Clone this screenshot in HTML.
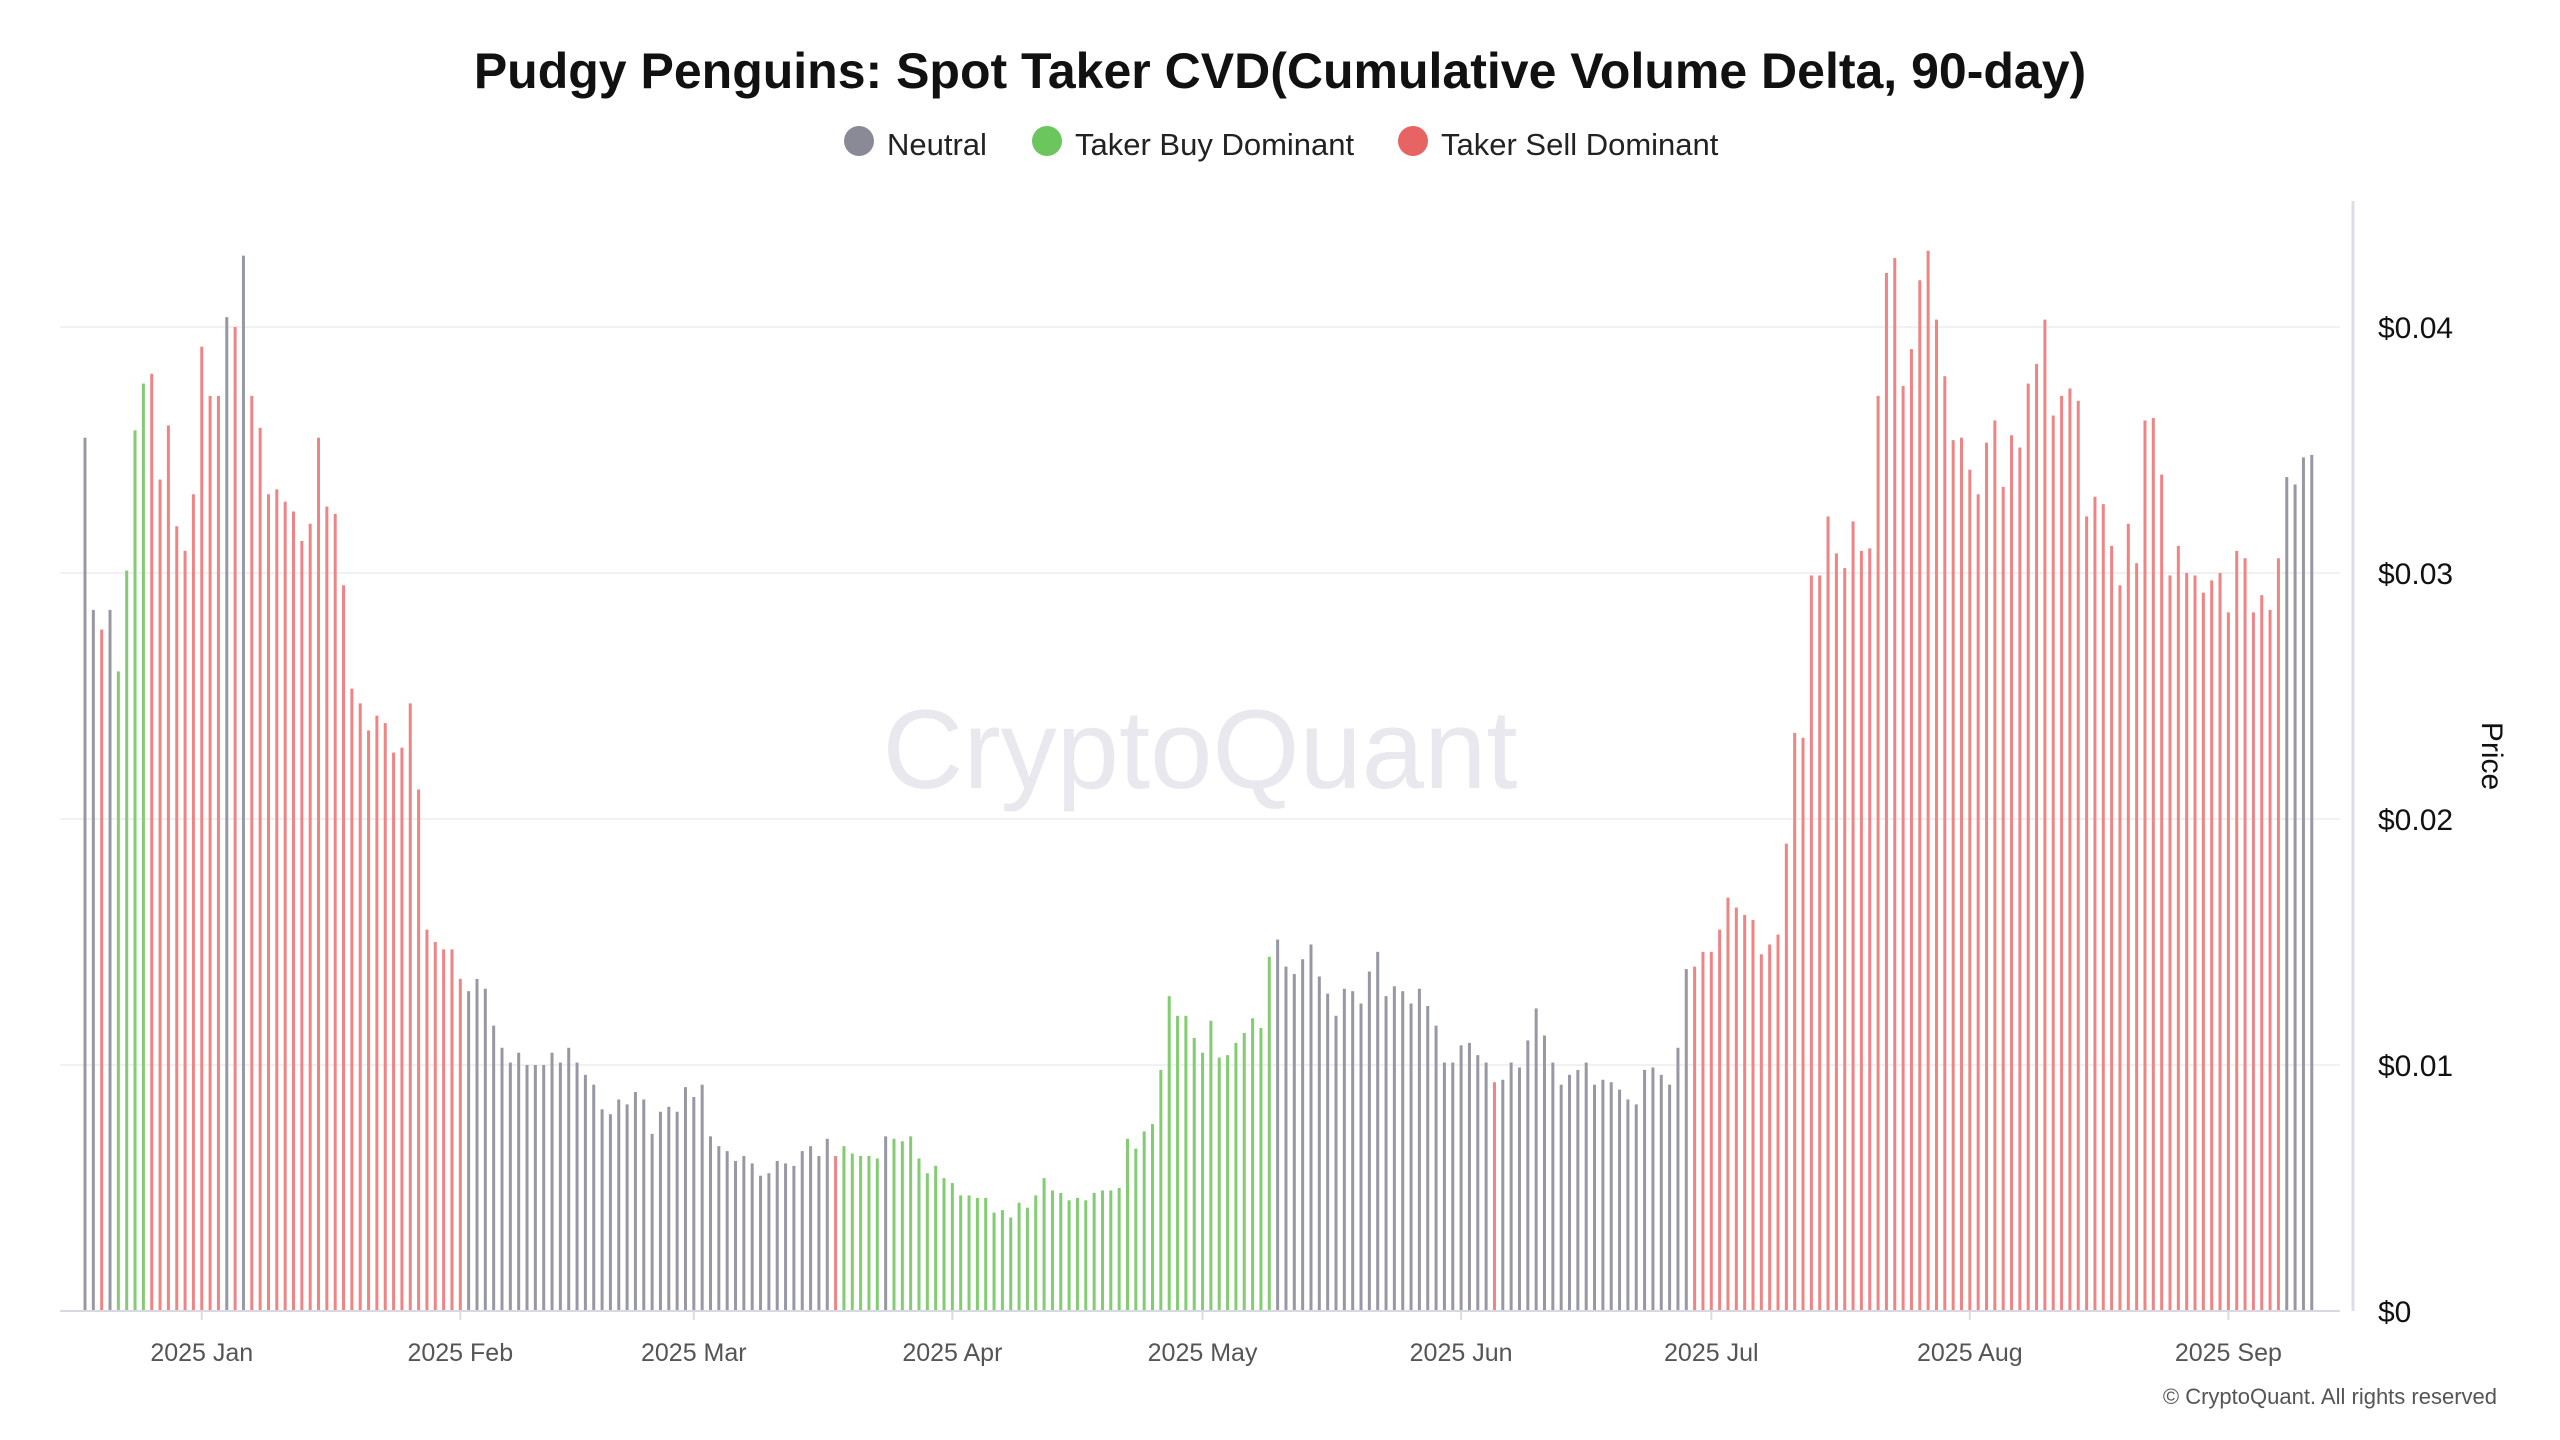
<!DOCTYPE html>
<html><head><meta charset="utf-8"><style>
body{margin:0;background:#fff;width:2560px;height:1440px;overflow:hidden;font-family:"Liberation Sans",sans-serif}
svg{display:block}
</style></head><body>
<svg id="chart" width="2560" height="1440" viewBox="0 0 2560 1440">
<text x="1280" y="88" text-anchor="middle" font-size="50" font-weight="bold" fill="#111">Pudgy Penguins: Spot Taker CVD(Cumulative Volume Delta, 90-day)</text>
<g>
<g><circle cx="859" cy="141" r="15" fill="#8a8a96"/><text x="887" y="155" font-size="31" fill="#222">Neutral</text></g>
<g><circle cx="1047" cy="141" r="15" fill="#6cc65e"/><text x="1075" y="155" font-size="31" fill="#222">Taker Buy Dominant</text></g>
<g><circle cx="1413" cy="141" r="15" fill="#e86464"/><text x="1441" y="155" font-size="31" fill="#222">Taker Sell Dominant</text></g>
</g>
<text x="1200" y="788" text-anchor="middle" font-size="112" font-weight="normal" fill="#e8e8ee">CryptoQuant</text>
<g id="grid"></g>
<g id="bars"></g>
<line x1="60" y1="1311" x2="2340" y2="1311" stroke="#d8d8e2" stroke-width="2"/>
<line x1="2353" y1="201" x2="2353" y2="1311" stroke="#dcdce6" stroke-width="3"/>
<g id="yticks"></g>
<g id="xticks"></g>
<text x="2482" y="756" text-anchor="middle" font-size="30" fill="#111" transform="rotate(90 2482 756)">Price</text>
<text x="2497" y="1404" text-anchor="end" font-size="22" fill="#555">© CryptoQuant. All rights reserved</text>
</svg>
<script>
const startDate = "2024-12-18";
const values = [
.0355,.0285,.0277,.0285,.0260,.0301,.0358,.0377,.0381,.0338,.0360,.0319,.0309,.0332,.0392,.0372,.0372,.0404,.0400,.0429,.0372,.0359,.0332,.0334,.0329,.0325,.0313,.0320,.0355,.0327,.0324,.0295,.0253,.0247,.0236,.0242,.0239,.0227,.0229,.0247,.0212,.0155,.0150,.0147,.0147,.0135,.0130,.0135,
.0131,.0116,.0107,.0101,.0105,.0100,.0100,.0100,.0105,.0101,.0107,.0101,.0096,.0092,.0082,.0080,.0086,.0084,.0089,.0086,.0072,.0081,.0083,.0081,.0091,.0087,.0092,.0071,.0067,.0065,.0061,.0063,.0060,.0055,.0056,.0061,.0060,.0059,.0065,.0067,.0063,.0070,.0063,.0067,.0064,.0063,.0063,.0062,.0071,
.0070,.0069,.0071,.0062,.0056,.0059,.0054,.0052,.0047,.0047,.0046,.0046,.0040,.0041,.0038,.0044,.0042,.0047,.0054,.0049,.0048,.0045,.0046,.0045,.0048,.0049,.0049,.0050,.0070,.0066,.0073,.0076,.0098,.0128,.0120,.0120,.0111,.0105,.0118,.0103,.0104,.0109,.0113,.0119,.0115,.0144,.0151,.0140,.0137,
.0143,.0149,.0136,.0129,.0120,.0131,.0130,.0125,.0138,.0146,.0128,.0132,.0130,.0125,.0131,.0124,.0116,.0101,.0101,.0108,.0109,.0104,.0101,.0093,.0094,.0101,.0099,.0110,.0123,.0112,.0101,.0092,.0096,.0098,.0101,.0092,.0094,.0093,.0090,.0086,.0084,.0098,.0099,.0096,.0092,.0107,.0139,.0140,.0146,
.0146,.0155,.0168,.0164,.0161,.0159,.0145,.0149,.0153,.0190,.0235,.0233,.0299,.0299,.0323,.0308,.0302,.0321,.0309,.0310,.0372,.0422,.0428,.0376,.0391,.0419,.0431,.0403,.0380,.0354,.0355,.0342,.0332,.0353,.0362,.0335,.0356,.0351,
.0377,.0385,.0403,.0364,.0372,.0375,.0370,.0323,.0331,.0328,.0311,.0295,.0320,.0304,.0362,.0363,.0340,.0299,.0311,.0300,.0299,.0292,.0297,.0300,.0284,.0309,.0306,.0284,.0291,.0285,.0306,.0339,.0336,.0347,.0348
];
const categories =
"nnrnggggrrrrrrrrrnrnrrrrrrrrrrrrrrrrrrrrrrrrrrnn"+
"nnnnnnnnnnnnnnnnnnnnnnnnnnnnnnnnnnnnnnnnnnrgggggn"+
"ggggggggggggggggggggggggggggggggggggggggggggggnnn"+
"nnnnnnnnnnnnnnnnnnnnnnnrnnnnnnnnnnnnnnnnnnnnnnnrr"+
"rrrrrrrrrrrrrrrrrrrrrrrrrrrrrrrrrrrrrr"+
"rrrrrrrrrrrrrrrrrrrrrrrrrrrrrrrnnnn";
const yTicks = [0, 0.01, 0.02, 0.03, 0.04];
const yTickLabels = ["$0", "$0.01", "$0.02", "$0.03", "$0.04"];
const xTickDates = ["2025-01-01","2025-02-01","2025-03-01","2025-04-01","2025-05-01","2025-06-01","2025-07-01","2025-08-01","2025-09-01"];
const xTickLabels = ["2025 Jan","2025 Feb","2025 Mar","2025 Apr","2025 May","2025 Jun","2025 Jul","2025 Aug","2025 Sep"];

const NS = "http://www.w3.org/2000/svg";
const X0 = 85, STEP = 8.34, Y0 = 1311, PX_PER_UNIT = 24600;
const colors = {n:"#9898a4", g:"#82cc72", r:"#f08484"};
function xScale(i){ return X0 + i*STEP; }
function yScale(v){ return Y0 - v*PX_PER_UNIT; }
function dayIndex(d){ return Math.round((Date.parse(d) - Date.parse(startDate))/86400000); }

const grid = document.getElementById("grid");
const yt = document.getElementById("yticks");
yTicks.forEach((t,k)=>{
  if (t > 0) {
    const l = document.createElementNS(NS,"line");
    l.setAttribute("x1",60); l.setAttribute("x2",2340);
    l.setAttribute("y1",yScale(t)); l.setAttribute("y2",yScale(t));
    l.setAttribute("stroke","#f1f1f3"); l.setAttribute("stroke-width","2");
    
    
    grid.appendChild(l);
  }
  const tx = document.createElementNS(NS,"text");
  tx.setAttribute("x",2378); tx.setAttribute("y",yScale(t)+11);
  tx.setAttribute("font-size","30"); tx.setAttribute("fill","#111");
  tx.textContent = yTickLabels[k];
  
  
  yt.appendChild(tx);
});

const bars = document.getElementById("bars");
values.forEach((v,i)=>{
  const r = document.createElementNS(NS,"rect");
  const h = Y0 - yScale(v);
  r.setAttribute("x", xScale(i)-1.5);
  r.setAttribute("y", yScale(v));
  r.setAttribute("width", 3);
  r.setAttribute("height", h);
  r.setAttribute("fill", colors[categories[i]] || colors.n);
  
  
  bars.appendChild(r);
});

const xt = document.getElementById("xticks");
xTickDates.forEach((d,k)=>{
  const x = xScale(dayIndex(d));
  const tk = document.createElementNS(NS,"line");
  tk.setAttribute("x1",x); tk.setAttribute("x2",x);
  tk.setAttribute("y1",1312); tk.setAttribute("y2",1320);
  tk.setAttribute("stroke","#dcdce4"); tk.setAttribute("stroke-width","2");
  
  
  xt.appendChild(tk);
  const tx = document.createElementNS(NS,"text");
  tx.setAttribute("x",x); tx.setAttribute("y",1361);
  tx.setAttribute("text-anchor","middle");
  tx.setAttribute("font-size","25"); tx.setAttribute("fill","#555");
  tx.textContent = xTickLabels[k];
  
  
  xt.appendChild(tx);
});
</script>
</body></html>
